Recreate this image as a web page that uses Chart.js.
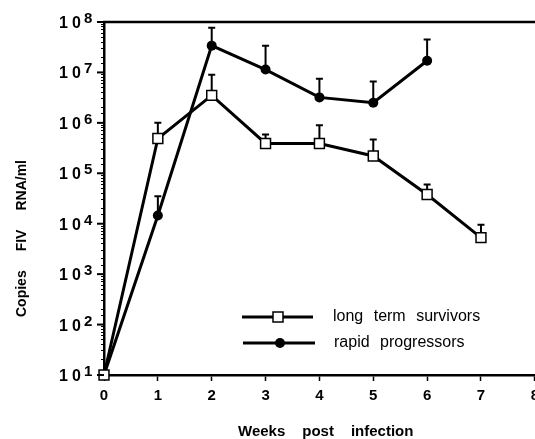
<!DOCTYPE html>
<html>
<head>
<meta charset="utf-8">
<script src="https://cdn.jsdelivr.net/npm/chart.js@4"></script>
<style>
  html, body { margin: 0; padding: 0; background: #fff; overflow: hidden; }
</style>
</head>
<body>
<canvas id="c" width="545" height="439"></canvas>
<script>
// data
const survivorWeeks = [0, 1, 2, 3, 4, 5, 6, 7];
const survivors     = [10, 4.9e5, 3.5e6, 3.9e5, 3.9e5, 2.2e5, 3.8e4, 5.3e3];
const survivorsTop  = [null, 1.0e6, 9.0e6, 5.9e5, 9.0e5, 4.7e5, 6.0e4, 9.5e3];

const progressorWeeks = [0, 1, 2, 3, 4, 5, 6];
const progressors     = [10, 1.45e4, 3.4e7, 1.14e7, 3.2e6, 2.5e6, 1.7e7];
const progressorsTop  = [null, 3.5e4, 7.7e7, 3.4e7, 7.5e6, 6.6e6, 4.5e7];

const yExponents = [1, 2, 3, 4, 5, 6, 7, 8];
const seriesLabels = ['long term survivors', 'rapid progressors'];

const FONT = '"Liberation Sans", Arial, sans-serif';

// one-sided upward error bars with a T cap
const errorBars = {
  id: 'errorBars',
  beforeDatasetsDraw(chart) {
    const { ctx, scales: { x, y } } = chart;
    ctx.save();
    ctx.strokeStyle = '#000';
    ctx.lineWidth = 2;
    chart.data.datasets.forEach(ds => {
      ds.data.forEach((p, i) => {
        const top = ds.errTop[i];
        if (top == null) return;
        const px = x.getPixelForValue(p.x);
        const py = y.getPixelForValue(p.y);
        const pt = y.getPixelForValue(top);
        ctx.beginPath();
        ctx.moveTo(px, py); ctx.lineTo(px, pt);
        ctx.moveTo(px - 3.5, pt); ctx.lineTo(px + 3.5, pt);
        ctx.stroke();
      });
    });
    ctx.restore();
  }
};

// top frame line, major ticks, 10^n labels, axis titles, legend
const decorations = {
  id: 'decorations',
  afterDraw(chart) {
    const { ctx, chartArea: a, scales: { y } } = chart;
    ctx.save();
    ctx.strokeStyle = '#000';
    ctx.fillStyle = '#000';

    // top line
    ctx.lineWidth = 2.5;
    ctx.beginPath();
    ctx.moveTo(a.left - 1, a.top); ctx.lineTo(chart.width, a.top);
    ctx.stroke();

    // major ticks + labels
    yExponents.forEach(e => {
      const py = y.getPixelForValue(Math.pow(10, e));
      ctx.lineWidth = 2;
      ctx.beginPath();
      ctx.moveTo(a.left - 7, py); ctx.lineTo(a.left, py);
      ctx.stroke();
      ctx.textAlign = 'left';
      ctx.textBaseline = 'alphabetic';
      ctx.font = 'bold 16px ' + FONT;
      ctx.fillText('1', 59, py + 6);
      ctx.fillText('0', 72, py + 6);
      ctx.font = 'bold 15px ' + FONT;
      ctx.fillText(String(e), 84, py + 1);
    });

    // y title
    ctx.save();
    ctx.translate(26, 317);
    ctx.rotate(-Math.PI / 2);
    ctx.font = 'bold 14px ' + FONT;
    ctx.textAlign = 'left';
    ctx.textBaseline = 'alphabetic';
    let cx = 0;
    ['Copies', 'FIV', 'RNA/ml'].forEach(w => {
      ctx.fillText(w, cx, 0);
      cx += ctx.measureText(w).width + 19;
    });
    ctx.restore();

    // x title
    ctx.font = 'bold 15px ' + FONT;
    ctx.textAlign = 'left';
    let wx = 238;
    ['Weeks', 'post', 'infection'].forEach(w => {
      ctx.fillText(w, wx, 436);
      wx += ctx.measureText(w).width + 17;
    });

    // legend
    const rows = [
      { y: 317, x0: 242, x1: 313, mx: 278, label: seriesLabels[0], square: true },
      { y: 343, x0: 243, x1: 315, mx: 280, label: seriesLabels[1], square: false }
    ];
    rows.forEach(r => {
      ctx.lineWidth = 3;
      ctx.beginPath();
      ctx.moveTo(r.x0, r.y); ctx.lineTo(r.x1, r.y);
      ctx.stroke();
      if (r.square) {
        ctx.fillStyle = '#fff';
        ctx.lineWidth = 1.5;
        ctx.fillRect(r.mx - 5, r.y - 5, 10, 10);
        ctx.strokeRect(r.mx - 5, r.y - 5, 10, 10);
      } else {
        ctx.fillStyle = '#000';
        ctx.beginPath();
        ctx.arc(r.mx, r.y, 5, 0, Math.PI * 2);
        ctx.fill();
      }
      ctx.fillStyle = '#000';
      ctx.font = '16px ' + FONT;
      ctx.textBaseline = 'middle';
      ctx.wordSpacing = '6px';
      ctx.fillText(r.label, r.x0 + 91, r.y);
      ctx.wordSpacing = '0px';
    });

    ctx.restore();
  }
};

new Chart(document.getElementById('c'), {
  type: 'line',
  data: {
    datasets: [
      {
        label: seriesLabels[0],
        data: survivorWeeks.map((w, i) => ({ x: w, y: survivors[i] })),
        errTop: survivorsTop,
        borderColor: '#000',
        borderWidth: 3,
        pointStyle: 'rect',
        pointRadius: 7,
        pointBackgroundColor: '#fff',
        pointBorderColor: '#000',
        pointBorderWidth: 1.5,
        tension: 0,
        clip: false
      },
      {
        label: seriesLabels[1],
        data: progressorWeeks.map((w, i) => ({ x: w, y: progressors[i] })),
        errTop: progressorsTop,
        borderColor: '#000',
        borderWidth: 3,
        pointStyle: 'circle',
        pointRadius: 5,
        pointBackgroundColor: '#000',
        pointBorderColor: '#000',
        pointBorderWidth: 0,
        tension: 0,
        clip: false
      }
    ]
  },
  options: {
    responsive: false,
    animation: false,
    layout: { padding: { top: 22, right: 6, left: 0, bottom: 0 } },
    plugins: {
      legend: { display: false },
      tooltip: { enabled: false }
    },
    scales: {
      x: {
        type: 'linear',
        min: 0,
        max: 8,
        afterFit: s => { s.height = 64; },
        ticks: {
          stepSize: 1,
          color: '#000',
          padding: 6,
          font: { family: FONT, size: 15, weight: 'bold' }
        },
        grid: {
          drawOnChartArea: false,
          drawTicks: true,
          tickLength: 6,
          tickWidth: 1.5,
          tickColor: '#000'
        },
        border: { color: '#000', width: 2.5 }
      },
      y: {
        type: 'logarithmic',
        min: 10,
        max: 1e8,
        afterFit: s => { s.width = 104; },
        ticks: {
          autoSkip: false,
          callback: () => ''
        },
        grid: {
          drawOnChartArea: false,
          drawTicks: true,
          tickLength: 3,
          tickWidth: 1,
          tickColor: '#000'
        },
        border: { color: '#000', width: 2.5 }
      }
    }
  },
  plugins: [errorBars, decorations]
});
</script>
</body>
</html>
